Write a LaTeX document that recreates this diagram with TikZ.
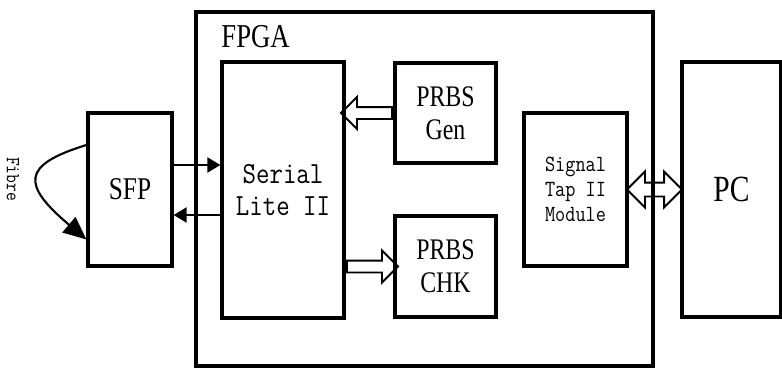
\documentclass[tikz,border=0pt]{standalone}
\usepackage{fontspec}
\setmainfont{Liberation Serif}[FakeStretch=0.8]
\setmonofont{Latin Modern Mono}[FakeStretch=0.85]
\usetikzlibrary{arrows.meta,shapes.arrows}

\begin{document}
\begin{tikzpicture}[>={Triangle[length=0.26cm,width=0.3cm]}, line width=1.2pt,
    box/.style={draw, line width=1.8pt, align=center},
    hollow/.style={draw, line width=1.1pt, single arrow, single arrow head extend=0.2cm, inner sep=0.1cm},
    hollowboth/.style={draw, line width=1.1pt, double arrow, double arrow head extend=0.22cm, inner sep=0.12cm}]
    \useasboundingbox (0,0) rectangle (15.64,-7.36);
    \node[box, minimum width=9.14cm, minimum height=7.08cm] (fpga) at (8.49,-3.78) {};
    \node[box, minimum width=2.44cm, minimum height=5.12cm, font=\ttfamily\fontsize{17.5}{18.7}\selectfont] (serial) at (5.66,-3.80) {Serial\\Lite II};
    \node[anchor=south west, inner sep=0pt, font=\fontsize{19}{22}\selectfont] (fpga_label) at ([yshift=0.24cm]serial.north west) {FPGA};
    \node[box, minimum width=2.02cm, minimum height=2.0cm, font=\fontsize{17}{18.7}\selectfont] (prbs_gen) at (8.91,-2.26) {PRBS\\Gen};
    \node[box, minimum width=2.02cm, minimum height=2.02cm, font=\fontsize{17}{18.7}\selectfont] (prbs_chk) at (8.91,-5.33) {PRBS\\CHK};
    \node[box, minimum width=2.06cm, minimum height=3.06cm, font=\ttfamily\fontsize{13.2}{14.2}\selectfont] (stp) at (11.51,-3.79) {Signal\\Tap II\\Module};
    \node[box, minimum width=1.98cm, minimum height=5.1cm, font=\fontsize{21}{24}\selectfont] (pc) at (14.63,-3.79) {PC};
    \node[box, minimum width=1.68cm, minimum height=3.06cm, font=\fontsize{18}{20}\selectfont] (sfp) at (2.6,-3.79) {SFP};
    \node[rotate=-90, font=\ttfamily\fontsize{11.4}{12}\selectfont] (fibre) at (0.26,-3.58) {Fibre};
    % fibre loop
    \draw[-{Triangle[length=0.46cm,width=0.4cm]}] ([yshift=0.89cm]sfp.west) .. controls +(-1.3,-0.4) and +(-1.3,1.1) .. ([yshift=-1.0cm]sfp.west);
    \draw[->] ([yshift=0.49cm]sfp.east) -- ([yshift=0.49cm]sfp.east -| serial.west);
    \draw[<-] ([yshift=-0.51cm]sfp.east) -- ([yshift=-0.51cm]sfp.east -| serial.west);
    % wide arrows
    \path (prbs_gen.west) -- (prbs_gen.west -| serial.east) node[midway, hollow, shape border rotate=180, minimum height=1.02cm] {};
    \path (prbs_chk.west -| serial.east) -- (prbs_chk.west) node[midway, hollow, minimum height=1.02cm] {};
    \path (stp.east) -- (stp.east -| pc.west) node[midway, hollowboth, minimum height=1.1cm] {};
\end{tikzpicture}
\end{document}
